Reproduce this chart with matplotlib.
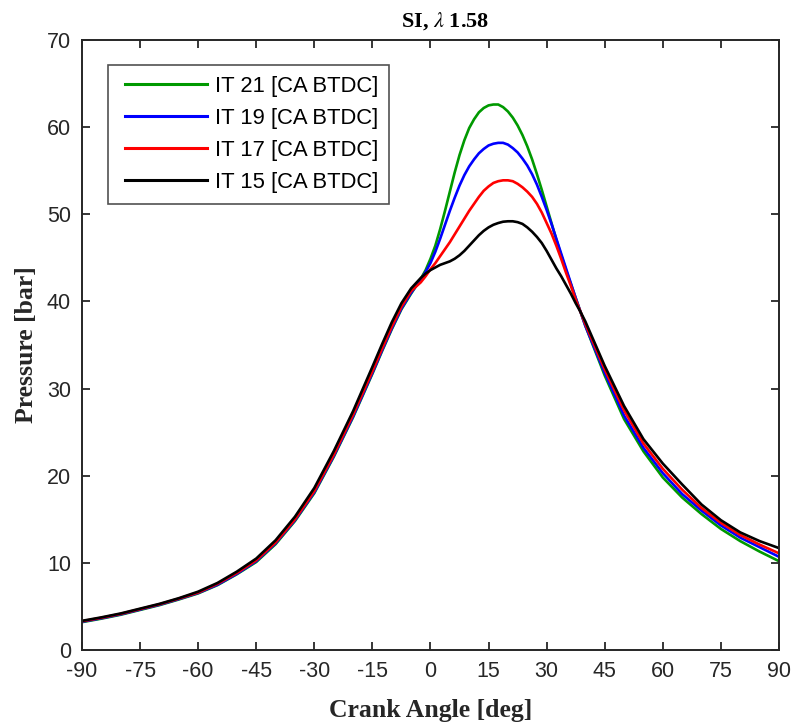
import matplotlib
matplotlib.use("Agg")
import matplotlib.pyplot as plt

# crank angle [deg] (finer steps around the peaks)
angle = [-90, -85, -80, -75, -70, -65, -60, -55, -50, -45, -40, -35, -30, -25, -20, -15, -12.5, -10, -7.5, -5,
         -2.5, -1.25, 0, 1.25, 2.5, 3.75, 5, 6.25, 7.5, 8.75, 10, 11.25, 12.5, 13.75, 15, 16.25,
         17.5, 18.75, 20, 21.25, 22.5, 23.75, 25, 26.25, 27.5, 28.75, 30, 31.25, 32.5, 33.75,
         35, 36.25, 37.5, 38.75, 40,
         45, 50, 55, 60, 65, 70, 75, 80, 85, 90]

# pressure [bar] for each ignition timing
p_it21 = [3.2, 3.6, 4.05, 4.6, 5.15, 5.8, 6.5, 7.45, 8.7, 10.1, 12.15, 14.8, 18.0, 22.15, 26.7, 31.7, 34.3, 36.8, 39.1, 40.9,
          42.6, 43.6, 44.9, 46.4, 48.3, 50.4, 52.6, 54.8, 56.8, 58.5, 59.9, 60.9, 61.7, 62.2, 62.5, 62.6,
          62.6, 62.3, 61.8, 61.1, 60.2, 59.1, 57.8, 56.3, 54.6, 52.8, 50.9, 49.0, 47.1, 45.3,
          43.6, 42.0, 40.4, 38.8, 37.2,
          31.5, 26.5, 22.8, 19.8, 17.5, 15.6, 13.9, 12.5, 11.3, 10.2]
p_it19 = [3.25, 3.65, 4.1, 4.65, 5.2, 5.85, 6.55, 7.5, 8.75, 10.2, 12.25, 14.9, 18.1, 22.25, 26.8, 31.8, 34.4, 36.9, 39.2, 41.0,
          42.5, 43.4, 44.4, 45.7, 47.2, 48.8, 50.4, 51.9, 53.3, 54.5, 55.5, 56.3, 57.0, 57.5, 57.9, 58.1,
          58.2, 58.2, 58.0, 57.6, 57.1, 56.4, 55.6, 54.6, 53.4, 52.0, 50.5, 48.9, 47.2, 45.5,
          43.8, 42.1, 40.4, 38.8, 37.2,
          31.8, 26.9, 23.2, 20.3, 17.9, 16.0, 14.3, 12.9, 11.8, 10.7]
p_it17 = [3.3, 3.7, 4.15, 4.7, 5.25, 5.9, 6.6, 7.6, 8.85, 10.3, 12.35, 15.0, 18.25, 22.4, 27.0, 32.0, 34.6, 37.1, 39.4, 41.2,
          42.2, 42.9, 43.7, 44.4, 45.2, 46.0, 46.8, 47.7, 48.6, 49.5, 50.4, 51.2, 52.0, 52.7, 53.2, 53.6,
          53.8, 53.9, 53.9, 53.8, 53.5, 53.1, 52.6, 52.0, 51.2, 50.2, 49.0, 47.8, 46.4, 44.9,
          43.3, 41.8, 40.2, 38.8, 37.4,
          32.2, 27.5, 23.7, 20.8, 18.4, 16.3, 14.6, 13.2, 12.1, 11.1]
p_it15 = [3.35, 3.75, 4.2, 4.75, 5.3, 5.95, 6.7, 7.7, 9.0, 10.5, 12.6, 15.3, 18.6, 22.8, 27.4, 32.5, 35.1, 37.6, 39.8, 41.5,
          42.7, 43.2, 43.6, 43.9, 44.2, 44.4, 44.6, 44.9, 45.3, 45.8, 46.4, 47.0, 47.6, 48.1, 48.5, 48.8,
          49.0, 49.15, 49.2, 49.2, 49.1, 48.9, 48.5, 48.0, 47.4, 46.7, 45.8, 44.8, 43.8, 42.9,
          41.9, 40.9, 39.8, 38.8, 37.7,
          32.6, 28.0, 24.2, 21.4, 19.0, 16.7, 14.9, 13.5, 12.5, 11.7]

labels = ["IT 21 [CA BTDC]", "IT 19 [CA BTDC]", "IT 17 [CA BTDC]", "IT 15 [CA BTDC]"]
colors = ["#009900", "#0000ff", "#ff0000", "#000000"]
xticks = list(range(-90, 91, 15))
yticks = list(range(0, 71, 10))

plt.rcParams["mathtext.fontset"] = "stix"
plt.rcParams["axes.unicode_minus"] = False
axis_col = "#262626"

fig = plt.figure(figsize=(7.93, 7.25), dpi=100)
ax = fig.add_axes([0.1034, 0.1034, 0.8789, 0.8414])

for p, lab, c in zip([p_it21, p_it19, p_it17, p_it15], labels, colors):
    ax.plot(angle, p, color=c, lw=1.9, label=lab, solid_joinstyle="round")

ax.set_xlim(-90, 90)
ax.set_ylim(0, 70)
ax.set_xticks(xticks)
ax.set_yticks(yticks)
ax.tick_params(direction="in", length=6, width=1.3, top=True, right=True,
               labelsize=15.5, colors=axis_col, pad=8)
for lbl in ax.get_xticklabels() + ax.get_yticklabels():
    lbl.set_family("Liberation Sans")
for s in ax.spines.values():
    s.set_linewidth(1.4)
    s.set_color(axis_col)

ax.set_title(r"SI, $\lambda$ 1.58", fontfamily="Liberation Serif", fontweight="bold",
             fontsize=16, x=0.521, pad=10)
ax.set_xlabel("Crank Angle [deg]", fontfamily="Liberation Serif", fontweight="bold",
              fontsize=18.5, color=axis_col, labelpad=12)
ax.set_ylabel("Pressure [bar]", fontfamily="Liberation Serif", fontweight="bold",
              fontsize=18.5, color=axis_col, labelpad=6)

leg = ax.legend(loc="upper left", bbox_to_anchor=(0.0373, 0.959), borderaxespad=0,
                fancybox=False, prop={"family": "Liberation Sans", "size": 15.8},
                handlelength=4.0, handletextpad=0.38, labelspacing=0.5, borderpad=0.5)
leg.get_frame().set_edgecolor(axis_col)
leg.get_frame().set_linewidth(1.2)
# trim the start of each legend line so it sits further in from the frame
for ln in leg.get_lines():
    xd = ln.get_xdata()
    yd = ln.get_ydata()
    ln.set_data([xd[0] + 4.5, xd[-1]], [yd[0], yd[-1]])
    ln.set_linewidth(2.2)

plt.savefig("out.png", dpi=100)
